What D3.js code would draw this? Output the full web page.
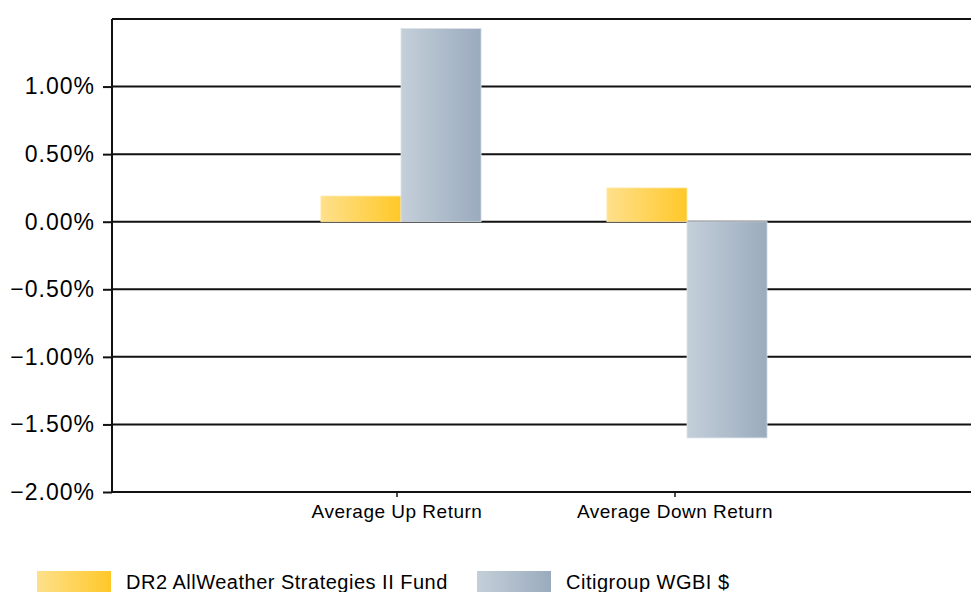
<!DOCTYPE html>
<html>
<head>
<meta charset="utf-8">
<script src="https://cdn.jsdelivr.net/npm/d3@7"></script>
<style>
  body { margin: 0; background: #fff; }
  svg text { font-family: "Liberation Sans", Arial, sans-serif; fill: #000; }
</style>
</head>
<body>
<div class="chart"></div>
<script>
// chart data
const categories = ['Average Up Return', 'Average Down Return']
const seriesNames = ['DR2 AllWeather Strategies II Fund', 'Citigroup WGBI $']
const fundValues = [0.19, 0.25]
const indexValues = [1.43, -1.60]
const yTicks = [-2.0, -1.5, -1.0, -0.5, 0.0, 0.5, 1.0]

const width = 971
const height = 592
const margin = { top: 19, right: 0, bottom: 100, left: 112 }

const svg = d3.select('.chart').append('svg')
  .attr('width', width)
  .attr('height', height)

// gradients for the two series
const defs = svg.append('defs')
const gradStops = [
  ['#FEE08C', '#FFC828'],
  ['#C4CFD9', '#9AABBE']
]
gradStops.forEach((stops, i) => {
  const g = defs.append('linearGradient')
    .attr('id', 'grad' + i)
    .attr('x1', '0%').attr('x2', '100%')
    .attr('y1', '0%').attr('y2', '0%')
  g.append('stop').attr('offset', '0%').attr('stop-color', stops[0])
  g.append('stop').attr('offset', '100%').attr('stop-color', stops[1])
})

const y = d3.scaleLinear()
  .domain([-2, 1.5])
  .range([492, margin.top])

// label positions
const xAxisScale = d3.scaleBand()
  .domain(categories)
  .range([258, 814])

// bar group positions
const x = d3.scaleBand()
  .domain(categories)
  .range([258, 830])
  .paddingInner(0.44)
  .paddingOuter(0.22)

const xSub = d3.scaleBand()
  .domain(seriesNames)
  .range([0, x.bandwidth()])

// gridlines
svg.append('g')
  .selectAll('line')
  .data(yTicks.concat([1.5]))
  .enter()
  .append('line')
  .attr('x1', margin.left)
  .attr('x2', width)
  .attr('y1', d => y(d))
  .attr('y2', d => y(d))
  .attr('stroke', '#111')
  .attr('stroke-width', 2)

// bars
const rows = categories.map((c, i) => ({ cat: c, vals: [fundValues[i], indexValues[i]] }))
const groups = svg.append('g')
  .selectAll('g')
  .data(rows)
  .enter()
  .append('g')
  .attr('transform', d => `translate(${x(d.cat)},0)`)

groups.selectAll('rect')
  .data(d => d.vals.map((v, i) => ({ name: seriesNames[i], v, i })))
  .enter()
  .append('rect')
  .attr('x', d => xSub(d.name))
  .attr('width', xSub.bandwidth())
  .attr('y', d => y(Math.max(0, d.v)))
  .attr('height', d => Math.abs(y(d.v) - y(0)))
  .attr('fill', d => `url(#grad${d.i})`)
  .attr('stroke', d => d.i === 0 ? '#FFE9A8' : '#DCE3EA')
  .attr('stroke-width', 0.8)

// y axis
const yAxis = svg.append('g')
  .attr('transform', `translate(${margin.left},0)`)
  .call(d3.axisLeft(y)
    .tickValues(yTicks)
    .tickSize(9)
    .tickPadding(8)
    .tickFormat(d => d3.format('.2f')(d) + '%'))
yAxis.select('.domain').remove()
yAxis.selectAll('.tick line').attr('stroke', '#111').attr('stroke-width', 2)
yAxis.selectAll('.tick text')
  .style('font-size', '23px')
  .style('letter-spacing', '1px')
  .attr('fill', '#000')

// left axis line
svg.append('line')
  .attr('x1', margin.left).attr('x2', margin.left)
  .attr('y1', y(1.5)).attr('y2', y(-2))
  .attr('stroke', '#111')
  .attr('stroke-width', 2)

// x axis
const xAxis = svg.append('g')
  .attr('transform', `translate(0,${y(-2)})`)
  .call(d3.axisBottom(xAxisScale).tickSize(5).tickPadding(8))
xAxis.select('.domain').remove()
xAxis.selectAll('.tick line').attr('stroke', '#111').attr('stroke-width', 1.5)
xAxis.selectAll('.tick text')
  .style('font-size', '19px')
  .style('letter-spacing', '0.5px')
  .attr('fill', '#000')

// legend
const legendX = [37, 477]
const legend = svg.append('g')
  .selectAll('g')
  .data(seriesNames)
  .enter()
  .append('g')
  .attr('transform', (d, i) => `translate(${legendX[i]},571)`)
legend.append('rect')
  .attr('width', 74)
  .attr('height', 22)
  .attr('fill', (d, i) => `url(#grad${i})`)
legend.append('text')
  .attr('x', 89)
  .attr('y', 18)
  .style('font-size', '20px')
  .style('letter-spacing', '0.5px')
  .text(d => d)
</script>
</body>
</html>
